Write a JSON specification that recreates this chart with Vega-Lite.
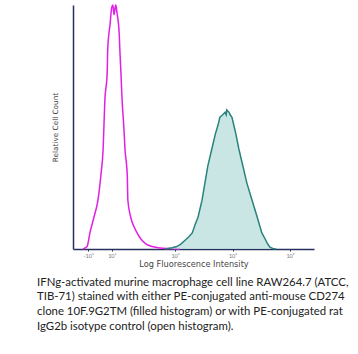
{
  "$schema": "https://vega.github.io/schema/vega-lite/v6.json",
  "autosize": "none",
  "width": 241,
  "height": 244,
  "padding": {"left": 73, "top": 5, "right": 44, "bottom": 105},
  "background": "white",
  "config": {"view": {"stroke": null}},
  "title": {
    "text": [
      "IFNg-activated murine macrophage cell line RAW264.7 (ATCC,",
      "TIB-71) stained with either PE-conjugated anti-mouse CD274",
      "clone 10F.9G2TM (filled histogram) or with PE-conjugated rat",
      "IgG2b isotype control (open histogram)."
    ],
    "orient": "bottom",
    "anchor": "start",
    "frame": "group",
    "dx": -36,
    "offset": 9,
    "font": "Lato",
    "fontSize": 11.4,
    "fontWeight": "normal",
    "color": "#222222",
    "lineHeight": 14.7,
    "baseline": "top"
  },
  "datasets": {
    "iso": [
      {"x": 1.40, "y": 0}, {"x": 1.47, "y": 0.01}, {"x": 1.52, "y": 0.066}, {"x": 1.59, "y": 0.13},
      {"x": 1.66, "y": 0.2}, {"x": 1.71, "y": 0.3}, {"x": 1.75, "y": 0.41}, {"x": 1.78, "y": 0.61},
      {"x": 1.82, "y": 0.72}, {"x": 1.83, "y": 0.82}, {"x": 1.87, "y": 0.92}, {"x": 1.90, "y": 0.99},
      {"x": 1.92, "y": 1.0}, {"x": 1.94, "y": 0.96}, {"x": 1.96, "y": 0.99}, {"x": 1.97, "y": 1.0},
      {"x": 1.99, "y": 0.97}, {"x": 2.03, "y": 0.88}, {"x": 2.04, "y": 0.82}, {"x": 2.06, "y": 0.72},
      {"x": 2.08, "y": 0.61}, {"x": 2.11, "y": 0.5}, {"x": 2.13, "y": 0.41}, {"x": 2.17, "y": 0.3},
      {"x": 2.18, "y": 0.2}, {"x": 2.23, "y": 0.13}, {"x": 2.29, "y": 0.09}, {"x": 2.34, "y": 0.066},
      {"x": 2.41, "y": 0.04}, {"x": 2.50, "y": 0.02}, {"x": 2.60, "y": 0.01}, {"x": 2.74, "y": 0.004},
      {"x": 2.91, "y": 0.002}, {"x": 3.09, "y": 0}
    ],
    "cd274": [
      {"x": 2.83, "y": 0}, {"x": 2.95, "y": 0.005}, {"x": 3.03, "y": 0.01}, {"x": 3.10, "y": 0.02},
      {"x": 3.17, "y": 0.035}, {"x": 3.24, "y": 0.05}, {"x": 3.30, "y": 0.066}, {"x": 3.35, "y": 0.1},
      {"x": 3.40, "y": 0.13}, {"x": 3.47, "y": 0.2}, {"x": 3.52, "y": 0.27}, {"x": 3.57, "y": 0.34},
      {"x": 3.64, "y": 0.41}, {"x": 3.70, "y": 0.47}, {"x": 3.75, "y": 0.51}, {"x": 3.78, "y": 0.54},
      {"x": 3.83, "y": 0.55}, {"x": 3.87, "y": 0.56}, {"x": 3.89, "y": 0.55}, {"x": 3.90, "y": 0.57},
      {"x": 3.94, "y": 0.56}, {"x": 3.96, "y": 0.55}, {"x": 3.99, "y": 0.54}, {"x": 4.03, "y": 0.5},
      {"x": 4.06, "y": 0.47}, {"x": 4.11, "y": 0.41}, {"x": 4.15, "y": 0.37}, {"x": 4.18, "y": 0.34},
      {"x": 4.25, "y": 0.27}, {"x": 4.34, "y": 0.2}, {"x": 4.43, "y": 0.13}, {"x": 4.51, "y": 0.066},
      {"x": 4.57, "y": 0.04}, {"x": 4.60, "y": 0.025}, {"x": 4.65, "y": 0.008}, {"x": 4.70, "y": 0.002},
      {"x": 4.76, "y": 0}
    ]
  },
  "encoding": {
    "x": {
      "field": "x", "type": "quantitative",
      "scale": {"domain": [1.226, 5.417], "nice": false, "zero": false},
      "axis": {
        "title": "Log Fluorescence Intensity",
        "values": [1.49, 1.9, 3, 4, 5],
        "labelExpr": "datum.value < 1.6 ? '-10¹' : datum.value < 2.5 ? '10²' : datum.value < 3.5 ? '10³' : datum.value < 4.5 ? '10⁴' : '10⁵'",
        "grid": false,
        "domainColor": "#27305e",
        "domainWidth": 1.5,
        "tickColor": "#27305e",
        "tickSize": 2,
        "labelFont": "Lato",
        "labelFontSize": 5.5,
        "labelColor": "#777777",
        "labelPadding": 2,
        "titleFont": "DejaVu Sans",
        "titleFontSize": 8.2,
        "titleFontWeight": "normal",
        "titleColor": "#444444",
        "titlePadding": 2
      }
    },
    "y": {
      "field": "y", "type": "quantitative",
      "scale": {"domain": [0, 1], "nice": false},
      "axis": {
        "title": "Relative Cell Count",
        "labels": false,
        "ticks": false,
        "grid": false,
        "domainColor": "#27305e",
        "domainWidth": 1.5,
        "titleFont": "DejaVu Sans",
        "titleFontSize": 7.3,
        "titleFontWeight": "normal",
        "titleColor": "#444444",
        "titlePadding": 14
      }
    }
  },
  "layer": [
    {
      "data": {"name": "iso"},
      "mark": {"type": "line", "color": "#e31ee6", "strokeWidth": 1.5, "interpolate": "monotone"}
    },
    {
      "data": {"name": "cd274"},
      "mark": {"type": "area", "color": "#b2dcd9", "line": {"color": "#2a827d", "strokeWidth": 1.5}, "interpolate": "linear"}
    }
  ]
}
